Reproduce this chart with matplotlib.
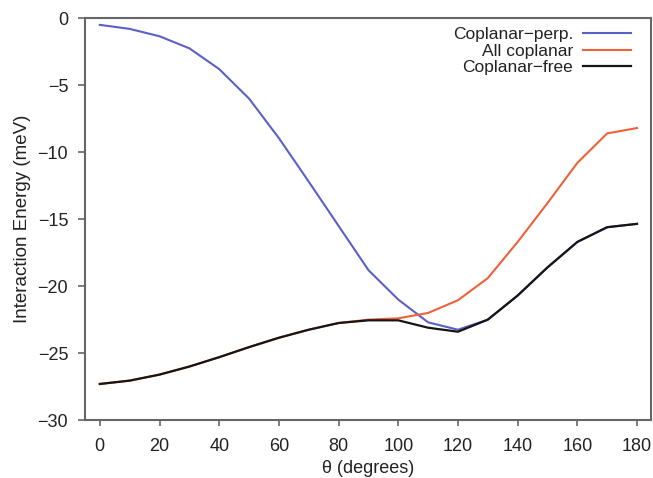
import numpy as np
import matplotlib
matplotlib.use("Agg")
import matplotlib.pyplot as plt

plt.rcParams['font.family'] = ['Liberation Sans', 'DejaVu Sans']

theta = np.arange(0, 181, 10)

# interaction energies (meV)
perp = [-0.5, -0.8, -1.35, -2.25, -3.8, -6.0, -8.95, -12.2, -15.5, -18.8,
        -21.0, -22.7, -23.25, -22.5, -20.7, -18.6, -16.7, -15.6, -15.35]
coplanar = [-27.3, -27.05, -26.6, -26.0, -25.3, -24.55, -23.85, -23.25, -22.75, -22.5,
            -22.4, -22.0, -21.05, -19.4, -16.7, -13.8, -10.8, -8.6, -8.2]
free = [-27.3, -27.05, -26.6, -26.0, -25.3, -24.55, -23.85, -23.25, -22.75, -22.55,
        -22.55, -23.1, -23.4, -22.5, -20.7, -18.6, -16.7, -15.6, -15.35]

fig = plt.figure(figsize=(6.53, 4.78), dpi=100)
ax = fig.add_axes([0.130, 0.121, 0.867, 0.841])

ax.plot(theta, perp, color='#5a60c8', lw=1.5, label='Coplanar\u2212perp.')
ax.plot(theta, coplanar, color='#f0603a', lw=1.5, label='All coplanar')
ax.plot(theta, free, color='#151515', lw=1.6, label='Coplanar\u2212free')

ax.set_xlim(-5, 184.7)
ax.set_ylim(-30, 0)
ax.set_xticks(np.arange(0, 181, 20))
ax.set_yticks(np.arange(-30, 1, 5))
ax.set_yticklabels(['\u221230', '\u221225', '\u221220', '\u221215', '\u221210', '\u22125', '0'])

for s in ax.spines.values():
    s.set_color('#666666')
    s.set_linewidth(1.5)
ax.tick_params(direction='out', length=5, width=1.2, color='#666666',
               labelsize=13, labelcolor='#222222')
ax.tick_params(axis='y', pad=7)
ax.tick_params(axis='x', pad=8, length=4.5)

ax.set_xlabel('\u03b8 (degrees)', fontsize=13, color='#222222', labelpad=4)
ax.set_ylabel('Interaction Energy (meV)', fontsize=13.5, color='#222222', labelpad=5)

leg = ax.legend(loc='upper right', frameon=False, markerfirst=False, fontsize=12.5,
                handlelength=2.75, handletextpad=0.6, labelspacing=0.08,
                borderpad=0, borderaxespad=0, bbox_to_anchor=(0.965, 0.978))
for t in leg.get_texts():
    t.set_ha('right')
    t.set_color('#222222')

fig.savefig('out.png', dpi=100)
